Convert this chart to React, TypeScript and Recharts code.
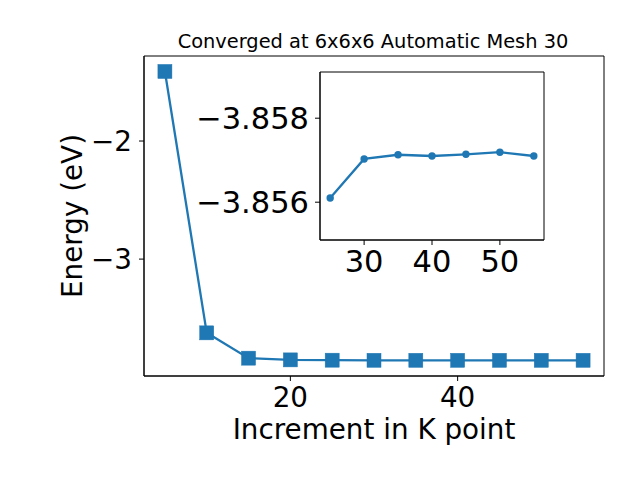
import React from 'react';
import { LineChart, Line, XAxis, YAxis, Label, ReferenceArea } from 'recharts';

const kPoints = [5, 10, 15, 20, 25, 30, 35, 40, 45, 50, 55];
const energies = [-1.411, -3.6246, -3.839, -3.8535, -3.8561, -3.85703, -3.85713, -3.8571, -3.85714, -3.85719, -3.8571];

const insetK = [25, 30, 35, 40, 45, 50, 55];
const insetEnergies = [-3.8561, -3.85703, -3.85713, -3.8571, -3.85714, -3.85719, -3.8571];

const mainXTicks = [20, 40];
const mainYTicks = [-3, -2];
const insetXTicks = [30, 40, 50];
const insetYTicks = [-3.858, -3.856];

const titleText = 'Converged at 6x6x6 Automatic Mesh 30';
const xLabelText = 'Increment in K point';
const yLabelText = 'Energy (eV)';

const mainData = kPoints.map((k, i) => ({ k, e: energies[i] }));
const insetData = insetK.map((k, i) => ({ k, e: insetEnergies[i] }));

const BLUE = '#1f77b4';
const FONT = 'DejaVu Sans';
const BIG = 27.8;
const INSET_FS = 30.5;

const MAIN_X: [number, number] = [2.5, 57.5];
const MAIN_Y: [number, number] = [-3.99, -1.28];
const INSET_X: [number, number] = [23.5, 56.5];
const INSET_Y: [number, number] = [-3.8591, -3.8551];

const fmtMinus = (v: number, digits = 0) => {
  const s = Math.abs(v).toFixed(digits);
  return v < 0 ? '\u2212' + s : s;
};

const SquareDot = (props: any) => {
  const { cx, cy } = props;
  if (cx == null || cy == null) return null;
  return <rect x={cx - 7} y={cy - 7} width={14} height={14} fill={BLUE} stroke={BLUE} strokeWidth={0.5} />;
};

const tickStyle = { fontFamily: FONT, fontSize: BIG, fill: '#000' };
const insetTickStyle = { fontFamily: FONT, fontSize: INSET_FS, fill: '#000' };

export default function App() {
  return (
    <div style={{ position: 'absolute', left: 0, top: 0, width: 640, height: 480, background: '#fff' }}>
      <div style={{ position: 'absolute', left: 0, top: 0 }}>
        <LineChart width={640} height={480} data={mainData} margin={{ top: 56, right: 36, bottom: 44, left: 64 }}>
          <XAxis
            dataKey="k"
            type="number"
            domain={MAIN_X}
            ticks={mainXTicks}
            allowDataOverflow
            height={60}
            stroke="#000"
            tickSize={5}
            tickMargin={6}
            tick={tickStyle}
            tickFormatter={(v: number) => String(v)}
          >
            <Label
              content={() => (
                <g>
                  <text x={374} y={439} textAnchor="middle" fontFamily={FONT} fontSize={BIG} fill="#000">
                    {xLabelText}
                  </text>
                  <text x={373} y={48} textAnchor="middle" fontFamily={FONT} fontSize={19.4} fill="#000">
                    {titleText}
                  </text>
                </g>
              )}
            />
          </XAxis>
          <YAxis
            type="number"
            domain={MAIN_Y}
            ticks={mainYTicks}
            allowDataOverflow
            width={80}
            stroke="#000"
            tickSize={5}
            tickMargin={7}
            tick={tickStyle}
            tickFormatter={(v: number) => fmtMinus(v)}
          >
            <Label
              content={() => (
                <text x={82} y={216} transform="rotate(-90 82 216)" textAnchor="middle" fontFamily={FONT} fontSize={BIG} fill="#000">
                  {yLabelText}
                </text>
              )}
            />
          </YAxis>
          <ReferenceArea x1={MAIN_X[0]} x2={MAIN_X[1]} y1={MAIN_Y[0]} y2={MAIN_Y[1]} fill="none" fillOpacity={0} stroke="#000" strokeWidth={1} />
          <Line dataKey="e" stroke={BLUE} strokeWidth={2.3} dot={<SquareDot />} isAnimationActive={false} />
        </LineChart>
      </div>
      <div style={{ position: 'absolute', left: 0, top: 0 }}>
        <LineChart width={640} height={480} data={insetData} margin={{ top: 72, right: 96, bottom: 200, left: 200 }}>
          <XAxis
            dataKey="k"
            type="number"
            domain={INSET_X}
            ticks={insetXTicks}
            allowDataOverflow
            height={40}
            stroke="#000"
            tickSize={5}
            tickMargin={5}
            tick={insetTickStyle}
          />
          <YAxis
            type="number"
            domain={INSET_Y}
            reversed
            ticks={insetYTicks}
            allowDataOverflow
            width={120}
            stroke="#000"
            tickSize={5}
            tickMargin={6}
            tick={insetTickStyle}
            tickFormatter={(v: number) => fmtMinus(v, 3)}
          />
          <ReferenceArea x1={INSET_X[0]} x2={INSET_X[1]} y1={INSET_Y[0]} y2={INSET_Y[1]} fill="none" fillOpacity={0} stroke="#000" strokeWidth={1} />
          <Line dataKey="e" stroke={BLUE} strokeWidth={2.3} dot={{ r: 3.7, fill: BLUE, stroke: BLUE, strokeWidth: 0 }} isAnimationActive={false} />
        </LineChart>
      </div>
    </div>
  );
}
